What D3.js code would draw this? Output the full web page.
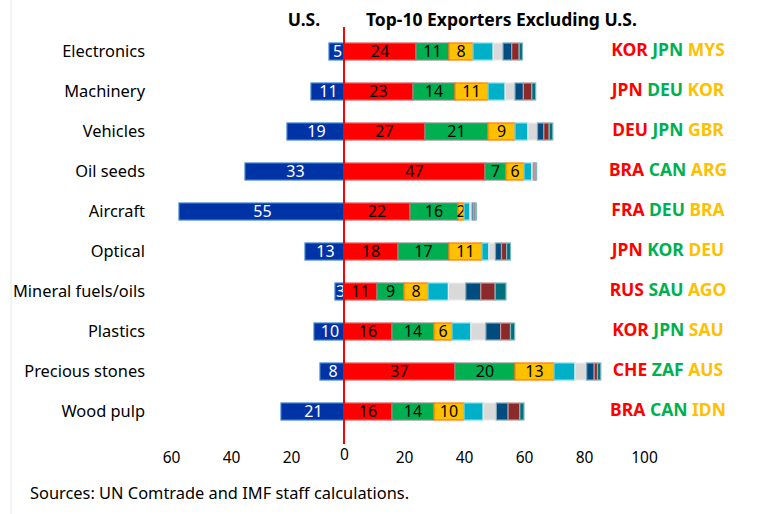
<html>

<head>
  <title>U.S. and Top-10 Exporters</title>
  <script src="https://d3js.org/d3.v7.min.js"></script>
  <style>
    body {
      margin: 0;
      background: #fff;
    }

    text {
      font-family: 'Noto Sans', 'Open Sans', Arial, sans-serif;
    }

    .axis text {
      font-size: 15.5px;
      fill: #000;
    }

    .axis .domain,
    .axis line {
      stroke: none;
    }

    .cat-label {
      font-size: 16.4px;
      text-anchor: end;
    }

    .title {
      font-size: 17.5px;
      font-weight: bold;
    }

    .bar-label {
      font-size: 16px;
      text-anchor: middle;
    }
  </style>
</head>

<body>
  <svg id="chart" width="769" height="514"></svg>

  <script>
    // data (share of world exports, %)
    const categories = ["Electronics", "Machinery", "Vehicles", "Oil seeds", "Aircraft",
      "Optical", "Mineral fuels/oils", "Plastics", "Precious stones", "Wood pulp"];
    const usShare = [5, 11, 19, 33, 55, 13, 3, 10, 8, 21];
    const first = [24, 23, 27, 47, 22, 18, 11, 16, 37, 16];
    const second = [11, 14, 21, 7, 16, 17, 9, 14, 20, 14];
    const third = [8, 11, 9, 6, 2, 11, 8, 6, 13, 10];
    const fourth = [6.7, 5.7, 4.3, 2.6, 2.0, 2.3, 6.8, 6.3, 7.0, 6.4];
    const fifth = [3.3, 3.3, 3.2, 0.5, 0.7, 2.2, 5.8, 5.0, 3.9, 4.4];
    const sixth = [2.9, 2.8, 2.1, 0.4, 0.5, 2.0, 5.0, 4.9, 2.5, 3.9];
    const seventh = [2.5, 2.8, 1.8, 0.4, 0.5, 1.7, 4.8, 3.3, 1.1, 3.9];
    const eighth = [1.1, 1.3, 1.2, 0.3, 0.4, 1.3, 3.6, 1.4, 1.1, 1.4];
    const top1 = ["KOR", "JPN", "DEU", "BRA", "FRA", "JPN", "RUS", "KOR", "CHE", "BRA"];
    const top2 = ["JPN", "DEU", "JPN", "CAN", "DEU", "KOR", "SAU", "JPN", "ZAF", "CAN"];
    const top3 = ["MYS", "KOR", "GBR", "ARG", "BRA", "DEU", "AGO", "SAU", "AUS", "IDN"];
    const rightTicks = [0, 20, 40, 60, 80, 100];
    const leftTicks = [20, 40, 60];

    const svg = d3.select("svg#chart");

    // segment styles: fill, stroke, whether labelled
    const segStyle = [
      { fill: "#FF0000", stroke: "#E65A5A", label: true },
      { fill: "#00B050", stroke: "#8C8C8C", label: true },
      { fill: "#FFC000", stroke: "#FF7A00", label: true },
      { fill: "#00AFC8", stroke: "#7fd7e3", label: false },
      { fill: "#D9D9D9", stroke: "#ececec", label: false },
      { fill: "#004C7E", stroke: "#7fa5be", label: false },
      { fill: "#8B2A2A", stroke: "#c59494", label: false },
      { fill: "#00707F", stroke: "#7fb7bf", label: false }
    ];
    const series = [first, second, third, fourth, fifth, sixth, seventh, eighth];

    const zeroX = 344;
    const xRight = d3.scaleLinear().domain([0, 100]).range([zeroX, zeroX + 300]);
    const xLeft = d3.scaleLinear().domain([0, 60]).range([zeroX, zeroX - 180]);

    const yScale = d3.scaleBand()
      .domain(categories)
      .range([31.5, 431.5])
      .paddingInner(0.575)
      .paddingOuter(0.2875);
    const bh = yScale.bandwidth();

    // faint frame line at far left
    svg.append("line")
      .attr("x1", 11).attr("x2", 11)
      .attr("y1", 0).attr("y2", 514)
      .attr("stroke", "#e6e6e6");

    // titles
    svg.append("text").attr("class", "title")
      .attr("x", 304).attr("y", 26)
      .attr("text-anchor", "middle")
      .text("U.S.");
    svg.append("text").attr("class", "title")
      .attr("x", 366).attr("y", 26)
      .text("Top-10 Exporters Excluding U.S.");

    // category labels
    svg.append("g").selectAll("text")
      .data(categories)
      .enter()
      .append("text")
      .attr("class", "cat-label")
      .attr("x", 145)
      .attr("y", d => yScale(d) + bh / 2)
      .attr("dy", "0.35em")
      .text(d => d);

    // U.S. bars (to the left)
    const usG = svg.append("g");
    usG.selectAll("rect")
      .data(categories)
      .enter()
      .append("rect")
      .attr("x", (d, i) => xLeft(usShare[i]))
      .attr("y", d => yScale(d))
      .attr("width", (d, i) => xLeft(0) - xLeft(usShare[i]))
      .attr("height", bh)
      .attr("fill", "#0033A6")
      .attr("stroke", "#3A82C8")
      .attr("stroke-width", 1.2);
    usG.selectAll("text")
      .data(categories)
      .enter()
      .append("text")
      .attr("class", "bar-label")
      .attr("x", (d, i) => (xLeft(usShare[i]) + xLeft(0)) / 2 + 1)
      .attr("y", d => yScale(d) + bh / 2)
      .attr("dy", "0.36em")
      .attr("fill", "#fff")
      .text((d, i) => usShare[i]);

    // stacked exporters (to the right)
    const stackG = svg.append("g");
    categories.forEach((cat, i) => {
      let start = 0;
      series.forEach((s, k) => {
        const v = s[i];
        const x0 = xRight(start), x1 = xRight(start + v);
        stackG.append("rect")
          .attr("x", x0)
          .attr("y", yScale(cat))
          .attr("width", x1 - x0)
          .attr("height", bh)
          .attr("fill", segStyle[k].fill)
          .attr("stroke", segStyle[k].stroke)
          .attr("stroke-width", 1.2);
        if (segStyle[k].label) {
          stackG.append("text")
            .attr("class", "bar-label")
            .attr("x", (x0 + x1) / 2)
            .attr("y", yScale(cat) + bh / 2)
            .attr("dy", "0.36em")
            .attr("fill", "#000")
            .text(v);
        }
        start += v;
      });
    });

    // zero line
    svg.append("line")
      .attr("x1", zeroX).attr("x2", zeroX)
      .attr("y1", 27).attr("y2", 444)
      .attr("stroke", "#FF0000")
      .attr("stroke-width", 2);

    // right countries
    const ctry = svg.append("g").selectAll("text")
      .data(categories)
      .enter()
      .append("text")
      .attr("x", 668)
      .attr("y", d => yScale(d) + bh / 2 - 2)
      .attr("dy", "0.35em")
      .attr("text-anchor", "middle")
      .attr("font-size", "17.5px")
      .attr("font-weight", "bold");
    ctry.append("tspan").attr("fill", "#FF0000").text((d, i) => top1[i] + " ");
    ctry.append("tspan").attr("fill", "#00B050").text((d, i) => top2[i] + " ");
    ctry.append("tspan").attr("fill", "#FFC000").text((d, i) => top3[i]);

    // axes
    const rightAxis = d3.axisBottom(xRight)
      .tickValues(rightTicks)
      .tickSize(0)
      .tickPadding(0)
      .tickFormat(d3.format("d"));
    const leftAxis = d3.axisBottom(xLeft)
      .tickValues(leftTicks)
      .tickSize(0)
      .tickPadding(0)
      .tickFormat(d3.format("d"));

    svg.append("g")
      .attr("class", "x axis")
      .attr("transform", "translate(0," + 451 + ")")
      .call(rightAxis)
      .selectAll(".tick text")
      .attr("dy", d => d === 0 ? "0.55em" : "0.75em");

    svg.append("g")
      .attr("class", "x axis")
      .attr("transform", "translate(7," + 451 + ")")
      .call(leftAxis)
      .selectAll(".tick text")
      .attr("dy", "0.75em");

    // source
    svg.append("text")
      .attr("x", 30)
      .attr("y", 499)
      .attr("font-size", "16.4px")
      .text("Sources: UN Comtrade and IMF staff calculations.");
  </script>
</body>

</html>
